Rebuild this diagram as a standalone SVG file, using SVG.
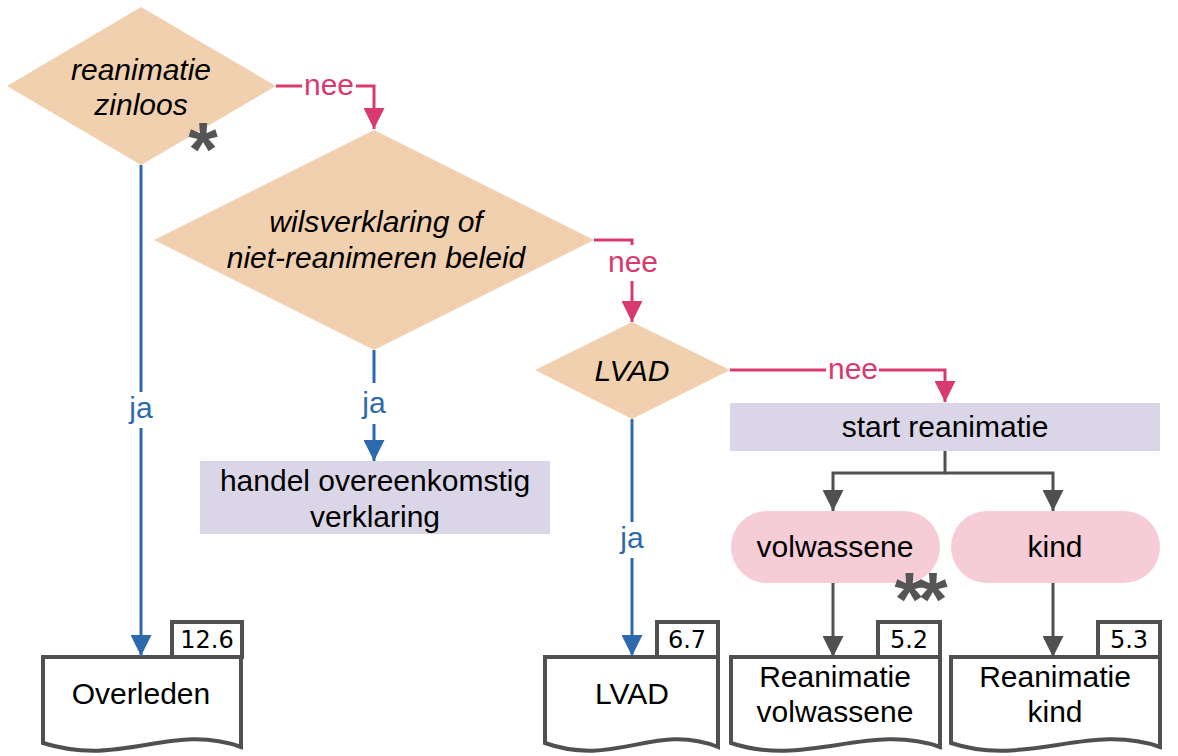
<svg xmlns="http://www.w3.org/2000/svg" width="1178" height="756" viewBox="0 0 1178 756">
<defs>
<style>
.dia{fill:#f0d0ae}
.box{fill:#dad6e8}
.pill{fill:#f6ccd7}
.doc{fill:#fff;stroke:#505050;stroke-width:4;stroke-linejoin:miter}
.t{font-family:"Liberation Sans",Arial,sans-serif;font-size:30px;fill:#000;text-anchor:middle}
.ti{font-family:"Liberation Sans",Arial,sans-serif;font-size:30px;font-style:italic;fill:#000;text-anchor:middle}
.tab{font-family:"DejaVu Sans",Verdana,sans-serif;font-size:24px;fill:#000;text-anchor:middle}
.lbn{font-family:"Liberation Sans",Arial,sans-serif;font-size:30px;fill:#d93a6e;text-anchor:middle}
.lbj{font-family:"Liberation Sans",Arial,sans-serif;font-size:30px;fill:#2c6aad;text-anchor:middle}
.cn{fill:none;stroke:#d93a6e;stroke-width:3}
.cj{fill:none;stroke:#2c6aad;stroke-width:3}
.cg{fill:none;stroke:#505050;stroke-width:3}
.ast{font-family:"Liberation Sans",Arial,sans-serif;font-weight:bold;font-size:76px;fill:#555;text-anchor:middle}
</style>
<marker id="an" viewBox="0 0 20 20" refX="20" refY="10" markerWidth="21" markerHeight="21" markerUnits="userSpaceOnUse" orient="auto"><path d="M0,0 L20,10 L0,20 Z" fill="#d93a6e"/></marker>
<marker id="aj" viewBox="0 0 20 20" refX="20" refY="10" markerWidth="21" markerHeight="21" markerUnits="userSpaceOnUse" orient="auto"><path d="M0,0 L20,10 L0,20 Z" fill="#2c6aad"/></marker>
<marker id="ag" viewBox="0 0 20 20" refX="20" refY="10" markerWidth="21" markerHeight="21" markerUnits="userSpaceOnUse" orient="auto"><path d="M0,0 L20,10 L0,20 Z" fill="#505050"/></marker>
</defs>
<rect width="1178" height="756" fill="#fff"/>

<g id="n-zinloos">
<polygon class="dia" points="141,7 276,86 141,165 7,86"/>
<text class="ti" x="141" y="80">reanimatie</text>
<text class="ti" x="141" y="115">zinloos</text>
<text class="ast" x="203" y="175">*</text>
</g>
<g id="n-wils">
<polygon class="dia" points="374,130 594,240 374,350 154,240"/>
<text class="ti" x="376" y="232">wilsverklaring of</text>
<text class="ti" x="376" y="268">niet-reanimeren beleid</text>
</g>
<g id="n-lvad">
<polygon class="dia" points="632,322 730,370 632,419 535,370"/>
<text class="ti" x="632" y="381">LVAD</text>
</g>
<g id="n-start">
<rect class="box" x="730" y="403" width="430" height="48"/>
<text class="t" x="945" y="437">start reanimatie</text>
</g>
<g id="n-handel">
<rect class="box" x="200" y="461" width="350" height="73"/>
<text class="t" x="375" y="491">handel overeenkomstig</text>
<text class="t" x="375" y="527">verklaring</text>
</g>
<g id="n-volw">
<rect class="pill" x="731" y="511" width="209" height="72" rx="36"/>
<text class="t" x="835" y="557">volwassene</text>
<text class="ast" x="918" y="625" letter-spacing="-6">**</text>
</g>
<g id="n-kind">
<rect class="pill" x="951" y="511" width="209" height="72" rx="36"/>
<text class="t" x="1055" y="557">kind</text>
</g>

<g id="d-overleden">
<rect class="doc" x="172" y="622" width="70" height="35"/>
<text class="tab" x="207" y="648">12.6</text>
<path class="doc" d="M43,657 H241 V747 C171,722 123,768 43,743 Z"/>
<text class="t" x="141" y="704">Overleden</text>
</g>
<g id="d-lvad">
<rect class="doc" x="657" y="622" width="61" height="35"/>
<text class="tab" x="687" y="648">6.7</text>
<path class="doc" d="M545,657 H718 V747 C655,722 615,768 545,743 Z"/>
<text class="t" x="632" y="704">LVAD</text>
</g>
<g id="d-volw">
<rect class="doc" x="878" y="622" width="62" height="35"/>
<text class="tab" x="909" y="648">5.2</text>
<path class="doc" d="M731,657 H940 V747 C870,722 805,768 731,743 Z"/>
<text class="t" x="835" y="687">Reanimatie</text>
<text class="t" x="835" y="722">volwassene</text>
</g>
<g id="d-kind">
<rect class="doc" x="1098" y="622" width="62" height="35"/>
<text class="tab" x="1129" y="648">5.3</text>
<path class="doc" d="M951,657 H1160 V747 C1090,722 1025,768 951,743 Z"/>
<text class="t" x="1055" y="687">Reanimatie</text>
<text class="t" x="1055" y="722">kind</text>
</g>

<g id="connectors">
<path class="cn" d="M276,86 H302"/>
<path class="cn" d="M356,86 H374 V129" marker-end="url(#an)"/>
<text class="lbn" x="329" y="95">nee</text>

<path class="cn" d="M594,240 H632 V245"/>
<path class="cn" d="M632,281 V322" marker-end="url(#an)"/>
<text class="lbn" x="633" y="272">nee</text>

<path class="cn" d="M730,370 H826"/>
<path class="cn" d="M879,370 H945 V402" marker-end="url(#an)"/>
<text class="lbn" x="853" y="379">nee</text>

<path class="cj" d="M141,165 V392"/>
<path class="cj" d="M141,428 V656" marker-end="url(#aj)"/>
<text class="lbj" x="141" y="418">ja</text>

<path class="cj" d="M374,350 V383"/>
<path class="cj" d="M374,424 V461" marker-end="url(#aj)"/>
<text class="lbj" x="374" y="413">ja</text>

<path class="cj" d="M632,419 V522"/>
<path class="cj" d="M632,558 V656" marker-end="url(#aj)"/>
<text class="lbj" x="632" y="548">ja</text>

<path class="cg" d="M945,451 V473 H833 V511" marker-end="url(#ag)"/>
<path class="cg" d="M945,473 H1053 V511" marker-end="url(#ag)"/>
<path class="cg" d="M833,583 V657" marker-end="url(#ag)"/>
<path class="cg" d="M1053,583 V657" marker-end="url(#ag)"/>
</g>
</svg>
